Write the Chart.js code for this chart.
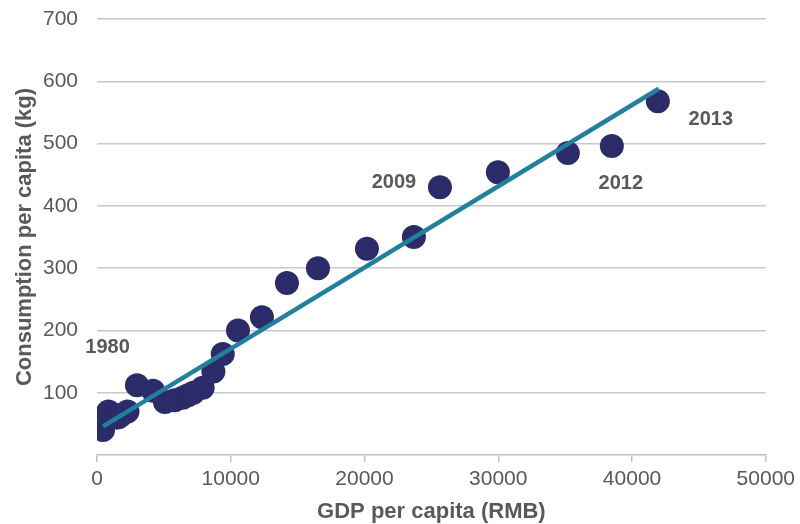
<!DOCTYPE html>
<html>
<head>
<meta charset="utf-8">
<script src="https://cdn.jsdelivr.net/npm/chart.js@4/dist/chart.umd.min.js"></script>
<style>
  html, body { margin: 0; padding: 0; background: #ffffff; }
  #wrap { width: 800px; height: 524px; position: relative; }
</style>
</head>
<body>
<div id="wrap"><canvas id="c" width="800" height="524"></canvas></div>
<script>
// Years of the series
const years = [
  1980, 1981, 1982, 1983, 1984, 1985, 1986, 1987, 1988, 1989, 1990, 1991, 1992,
  1993, 1994, 1995, 1996, 1997, 1998, 1999, 2000, 2001, 2002, 2003, 2004, 2005,
  2006, 2007, 2008, 2009, 2010, 2011, 2012, 2013
];
// GDP per capita (RMB)
const gdpPerCapita = [
  450, 490, 530, 580, 690, 850, 960, 1100, 1360, 1500, 1640, 1870, 2280,
  2990, 4190, 5080, 5800, 6400, 6800, 7200, 7900, 8700, 9400, 10540, 12330, 14200,
  16520, 20180, 23690, 25640, 29970, 35200, 38490, 41930
];
// Consumption per capita (kg)
const consumption = [
  40, 47, 55, 60, 65, 70, 68, 66, 63, 60, 61, 65, 70,
  112, 103, 85, 88, 92, 96, 100, 108, 134, 162, 200, 221, 276,
  300, 331, 350, 430, 454, 485, 496, 568
];
// Linear trend line end points (GDP, consumption)
const trendGdp = [450, 42000];
const trendConsumption = [46, 588];
// Axis ticks
const xTicks = [0, 10000, 20000, 30000, 40000, 50000];
const yTicks = [100, 200, 300, 400, 500, 600, 700];
// Years annotated on the chart
const labelledYears = [1980, 2009, 2012, 2013];

const GRAY = '#595959';
const FONT = "'Liberation Sans', Arial, sans-serif";

const points = years.map((y, i) => ({ x: gdpPerCapita[i], y: consumption[i] }));
const trend = trendGdp.map((g, i) => ({ x: g, y: trendConsumption[i] }));

// pixel offsets of each year label from its point
const labelOffsets = {
  1980: [4.5, -83],
  2009: [-46, -5],
  2012: [9, 37],
  2013: [53, 18]
};

const yearLabels = {
  id: 'yearLabels',
  afterDatasetsDraw(chart) {
    const { ctx, scales } = chart;
    ctx.save();
    ctx.font = "bold 20px " + FONT;
    ctx.fillStyle = GRAY;
    ctx.textAlign = 'center';
    ctx.textBaseline = 'middle';
    labelledYears.forEach(yr => {
      const i = years.indexOf(yr);
      const px = scales.x.getPixelForValue(gdpPerCapita[i]);
      const py = scales.y.getPixelForValue(consumption[i]);
      const off = labelOffsets[yr];
      ctx.fillText(String(yr), px + off[0], py + off[1]);
    });
    ctx.restore();
  }
};

new Chart(document.getElementById('c'), {
  type: 'scatter',
  data: {
    datasets: [
      {
        type: 'line',
        label: 'Trend',
        data: trend,
        borderColor: '#22809f',
        borderWidth: 4.5,
        pointRadius: 0,
        fill: false,
        order: 0
      },
      {
        label: 'Consumption',
        data: points,
        backgroundColor: '#2a2b68',
        borderColor: '#2a2b68',
        borderWidth: 0,
        pointRadius: 12,
        pointHoverRadius: 12,
        order: 1
      }
    ]
  },
  options: {
    responsive: false,
    animation: false,
    devicePixelRatio: 1,
    layout: { padding: { top: 19, right: 34, bottom: 0, left: 0 } },
    plugins: {
      legend: { display: false },
      tooltip: { enabled: false }
    },
    scales: {
      x: {
        type: 'linear',
        min: xTicks[0],
        max: xTicks[xTicks.length - 1],
        afterBuildTicks(scale) { scale.ticks = xTicks.map(v => ({ value: v })); },
        afterFit(scale) { scale.height = 69; },
        border: { display: true, color: '#bfbfbf', width: 1.5 },
        grid: { drawOnChartArea: false, drawTicks: true, tickLength: 7, color: '#bfbfbf', lineWidth: 1.5 },
        ticks: {
          color: GRAY,
          font: { family: FONT, size: 21 },
          padding: 5,
          maxRotation: 0,
          callback: v => String(v)
        },
        title: {
          display: true,
          text: 'GDP per capita (RMB)',
          color: GRAY,
          font: { family: FONT, size: 22, weight: 'bold', lineHeight: 1 },
          padding: { top: 0, bottom: 1 }
        }
      },
      y: {
        type: 'linear',
        min: 0,
        max: 700,
        afterBuildTicks(scale) { scale.ticks = yTicks.map(v => ({ value: v })); },
        afterFit(scale) { scale.width = 97; },
        border: { display: false },
        // invisible tick marks keep the labels clear of the grid lines
        grid: { drawTicks: true, tickLength: 19, tickColor: 'rgba(0,0,0,0)', color: '#c8c8c8', lineWidth: 1.5 },
        ticks: {
          color: GRAY,
          font: { family: FONT, size: 21 },
          padding: 0,
          callback: v => String(v)
        },
        title: {
          display: true,
          text: 'Consumption per capita (kg)',
          color: GRAY,
          font: { family: FONT, size: 22, weight: 'bold', lineHeight: 1.2 },
          padding: { top: 12, bottom: 0 }
        }
      }
    }
  },
  plugins: [yearLabels]
});
</script>
</body>
</html>
